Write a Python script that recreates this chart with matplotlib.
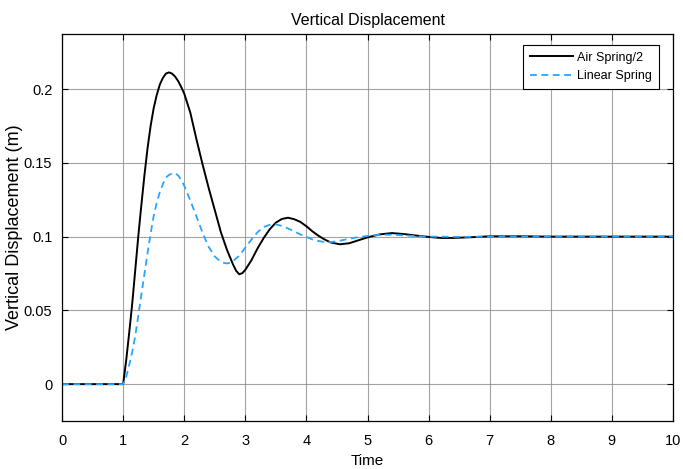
import numpy as np
import matplotlib.pyplot as plt

# time axis samples (s) and responses (m)
t_air = [0.0, 1.0, 1.05, 1.1, 1.15, 1.2, 1.25, 1.3, 1.35, 1.4, 1.45, 1.5, 1.55, 1.6,
         1.65, 1.7, 1.75, 1.8, 1.85, 1.9, 1.95, 2.0, 2.1, 2.2, 2.3, 2.4, 2.5, 2.6,
         2.7, 2.8, 2.85, 2.9, 2.95, 3.0, 3.1, 3.2, 3.3, 3.4, 3.5, 3.6, 3.7, 3.8,
         3.9, 4.0, 4.1, 4.2, 4.3, 4.4, 4.55, 4.7, 4.85, 5.0, 5.2, 5.4, 5.6, 5.8,
         6.0, 6.2, 6.4, 6.7, 7.0, 7.5, 8.0, 9.0, 10.0]
air_spring = [0.0, 0.0, 0.016, 0.035, 0.055, 0.078, 0.101, 0.122, 0.142, 0.160,
              0.175, 0.187, 0.196, 0.203, 0.2075, 0.2105, 0.2113, 0.2105, 0.2085,
              0.2055, 0.2015, 0.197, 0.184, 0.166, 0.149, 0.133, 0.118, 0.103,
              0.091, 0.081, 0.0768, 0.0745, 0.0752, 0.0775, 0.084, 0.092, 0.099,
              0.105, 0.1095, 0.112, 0.1128, 0.1118, 0.110, 0.107, 0.1035, 0.1005,
              0.098, 0.096, 0.0948, 0.0955, 0.0975, 0.0995, 0.1015, 0.1024, 0.1017,
              0.1007, 0.0998, 0.0991, 0.0991, 0.0996, 0.1002, 0.1002, 0.1, 0.1, 0.1]

t_lin = [0.0, 1.0, 1.05, 1.1, 1.15, 1.2, 1.25, 1.3, 1.35, 1.4, 1.45, 1.5, 1.55, 1.6,
         1.65, 1.7, 1.75, 1.8, 1.85, 1.9, 1.95, 2.0, 2.1, 2.2, 2.3, 2.4, 2.5, 2.6,
         2.65, 2.7, 2.75, 2.8, 2.9, 3.0, 3.1, 3.2, 3.3, 3.4, 3.5, 3.6, 3.7, 3.8,
         3.9, 4.0, 4.1, 4.2, 4.3, 4.4, 4.5, 4.6, 4.8, 5.0, 5.2, 5.4, 5.6, 5.8,
         6.0, 6.5, 7.0, 8.0, 10.0]
linear_spring = [0.0, 0.0, 0.005, 0.013, 0.022, 0.033, 0.047, 0.061, 0.075, 0.089,
                 0.102, 0.114, 0.123, 0.130, 0.1355, 0.140, 0.1418, 0.1428, 0.143,
                 0.1415, 0.1385, 0.1345, 0.1245, 0.1136, 0.1027, 0.093, 0.0865,
                 0.083, 0.0822, 0.0818, 0.0822, 0.0835, 0.087, 0.0925, 0.098, 0.103,
                 0.1065, 0.108, 0.1083, 0.1072, 0.1055, 0.1035, 0.1015, 0.0998,
                 0.098, 0.097, 0.0963, 0.0963, 0.0968, 0.0977, 0.0993, 0.1005,
                 0.1012, 0.1013, 0.1008, 0.1003, 0.1, 0.0998, 0.1, 0.1, 0.1]

x_ticks = np.arange(0, 11, 1)
y_ticks = [0, 0.05, 0.1, 0.15, 0.2]

plt.rcParams['font.family'] = ['Liberation Sans', 'DejaVu Sans']

fig = plt.figure(figsize=(6.83, 4.69), dpi=100)
ax = fig.add_axes([0.0908, 0.1023, 0.8946, 0.8257])

ax.plot(t_air, air_spring, color='black', lw=1.4, label='Air Spring/2')
ax.plot(t_lin, linear_spring, color='#2aa5ff', lw=1.3, dashes=(3.8, 2.5),
        label='Linear Spring')

ax.set_xlim(0, 10)
ax.set_ylim(-0.025, 0.2375)
ax.set_xticks(x_ticks)
ax.set_xticklabels([str(v) for v in x_ticks])
ax.set_yticks(y_ticks)
ax.set_yticklabels(['0', '0.05', '0.1', '0.15', '0.2'])
ax.tick_params(direction='in', length=4, width=0.8, top=True, right=True,
               labelsize=10.5, colors='black')
ax.tick_params(axis='x', pad=9)
ax.tick_params(axis='y', pad=7)
ax.grid(True, color='#8c8c8c', lw=0.8, alpha=0.8)
ax.set_axisbelow(True)
for s in ax.spines.values():
    s.set_linewidth(0.9)

ax.set_title('Vertical Displacement', fontsize=11.5, pad=6)
ax.set_xlabel('Time', fontsize=11)
ax.xaxis.set_label_coords(0.5, -0.086)
ax.set_ylabel('Vertical Displacement (m)', fontsize=13)
ax.yaxis.set_label_coords(-0.077, 0.5)
ax.yaxis.label.set_va('center')

leg = ax.legend(loc='upper right', bbox_to_anchor=(0.977, 0.971), borderaxespad=0,
                fontsize=9, fancybox=False, framealpha=1, edgecolor='black',
                handlelength=3.5, handletextpad=0.3, borderpad=0.55,
                labelspacing=0.5)
leg.get_frame().set_linewidth(0.8)

fig.savefig('out.png', dpi=100)
